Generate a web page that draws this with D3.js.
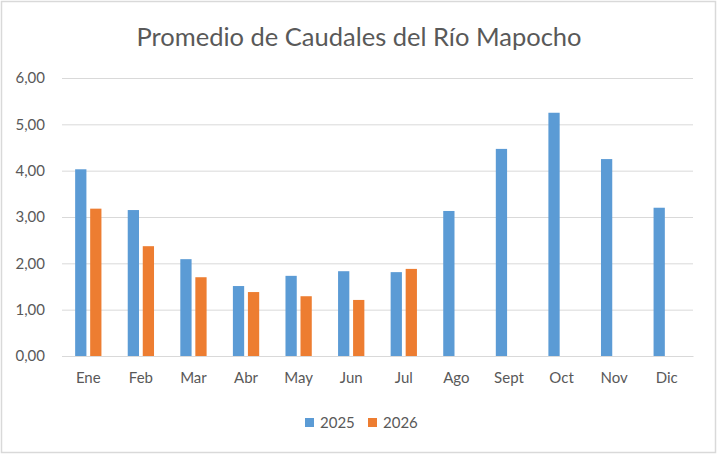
<!DOCTYPE html>
<html>
<head>
<meta charset="utf-8">
<script src="https://cdn.jsdelivr.net/npm/d3@7"></script>
<style>
  body { margin: 0; background: #fff; }
  text { font-family: Lato, "Open Sans", sans-serif; }
</style>
</head>
<body>
<div id="chart"></div>
<script>
const months = ["Ene", "Feb", "Mar", "Abr", "May", "Jun", "Jul", "Ago", "Sept", "Oct", "Nov", "Dic"];
const seriesNames = ["2025", "2026"];
const values2025 = [4.03, 3.15, 2.09, 1.51, 1.73, 1.83, 1.81, 3.13, 4.47, 5.25, 4.25, 3.20];
const values2026 = [3.18, 2.37, 1.70, 1.38, 1.29, 1.21, 1.88, null, null, null, null, null];
const yTicks = [0, 1, 2, 3, 4, 5, 6];
const colours = ["#5b9bd5", "#ed7d31"];

const W = 717, H = 454;
const margin = { top: 78, right: 24, bottom: 98, left: 62 };
const width = W - margin.left - margin.right,
    height = H - margin.top - margin.bottom;

const root = d3.select("#chart")
    .append("svg")
        .attr("width", W)
        .attr("height", H);

// chart border
root.append("rect")
    .attr("x", 1.5).attr("y", 1.5)
    .attr("width", W - 3).attr("height", H - 3)
    .attr("fill", "#fff")
    .attr("stroke", "#d9d9d9")
    .attr("stroke-width", 1.5);

root.append("text")
    .attr("x", 359)
    .attr("y", 46)
    .attr("text-anchor", "middle")
    .style("font-size", "25.5px")
    .style("fill", "#595959")
    .text("Promedio de Caudales del Río Mapocho");

const svg = root.append("g")
    .attr("transform", `translate(${margin.left},${margin.top})`);

const x0 = d3.scaleBand()
    .domain(months)
    .range([0, width])
    .paddingInner(0.5)
    .paddingOuter(0.25);

const x1 = d3.scaleBand()
    .domain(seriesNames)
    .range([0, x0.bandwidth()])
    .paddingInner(0.25);

const y = d3.scaleLinear()
    .domain([0, 6])
    .range([height, 0]);

// gridlines
const yAxisGroup = svg.append("g")
    .call(d3.axisLeft(y).tickValues(yTicks).tickSize(-width).tickPadding(17)
        .tickFormat(d => d3.format(".2f")(d).replace(".", ",")));
yAxisGroup.select(".domain").remove();
yAxisGroup.selectAll("line").style("stroke", "#d9d9d9").style("stroke-width", 1);
yAxisGroup.selectAll("text").style("fill", "#595959").style("font-size", "15px");

const rows = months.map((m, i) => ({ month: m, vals: [values2025[i], values2026[i]] }));

svg.selectAll(".group")
    .data(rows)
    .join("g")
        .attr("class", "group")
        .attr("transform", d => `translate(${x0(d.month)},0)`)
    .selectAll("rect")
    .data(d => d.vals.map((v, i) => ({ key: seriesNames[i], value: v, i })).filter(d => d.value != null))
    .join("rect")
        .attr("x", d => x1(d.key))
        .attr("y", d => y(d.value))
        .attr("width", x1.bandwidth())
        .attr("height", d => y(0) - y(d.value))
        .attr("fill", d => colours[d.i]);

const xAxisGroup = svg.append("g")
    .attr("transform", `translate(0,${height})`)
    .call(d3.axisBottom(x0).tickSize(0).tickPadding(16));
xAxisGroup.select(".domain").style("stroke", "#d9d9d9");
xAxisGroup.selectAll("text").style("fill", "#595959").style("font-size", "15px");

// legend
const legend = root.append("g")
    .attr("transform", "translate(305,418)");

const items = legend.selectAll("g")
    .data(seriesNames)
    .join("g")
        .attr("transform", (d, i) => `translate(${i * 63},0)`);

items.append("rect")
    .attr("width", 9).attr("height", 9)
    .attr("fill", (d, i) => colours[i]);

items.append("text")
    .attr("x", 15)
    .attr("y", 9.5)
    .style("font-size", "15px")
    .style("fill", "#595959")
    .text(d => d);
</script>
</body>
</html>
